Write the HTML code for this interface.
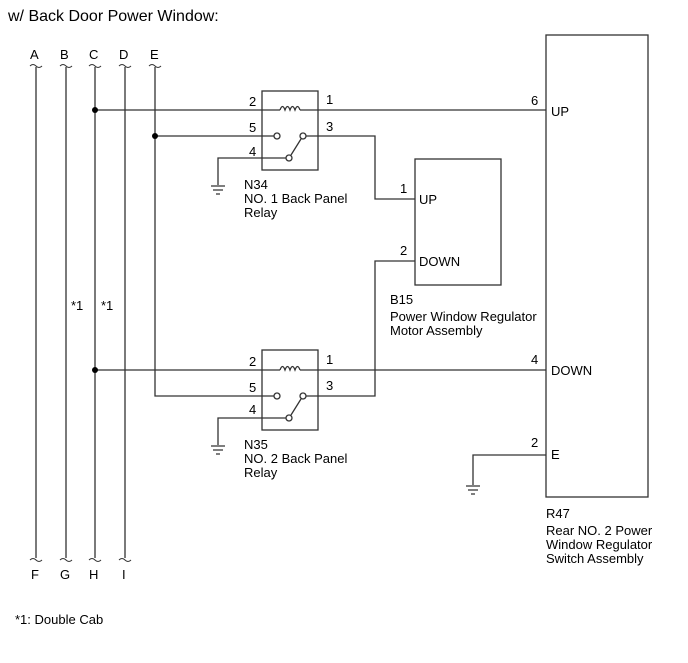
<!DOCTYPE html>
<html><head><meta charset="utf-8"><style>
body{margin:0;background:#fff}
svg text{font-family:"Liberation Sans",Arial,sans-serif;font-size:13px;fill:#000}
</style></head><body>
<svg width="688" height="658" viewBox="0 0 688 658" xmlns="http://www.w3.org/2000/svg">
<g fill="none" stroke="#333" stroke-width="1.3">
<path d="M36 67V558M66 67V558M95 67V558M125 67V558M155 67V396H262"/>
<g stroke-width="1">
<path d="M30 66q3-3 6 0q3 3 6 0M60 66q3-3 6 0q3 3 6 0M89 66q3-3 6 0q3 3 6 0M119 66q3-3 6 0q3 3 6 0M149 66q3-3 6 0q3 3 6 0"/>
<path d="M30 560q3-3 6 0q3 3 6 0M60 560q3-3 6 0q3 3 6 0M89 560q3-3 6 0q3 3 6 0M119 560q3-3 6 0q3 3 6 0"/>
</g>
<rect x="262" y="91" width="56" height="79"/>
<path d="M95 110H280M300 110H546"/>
<path d="M280 110q2.5-7 5 0q2.5-7 5 0q2.5-7 5 0q2.5-7 5 0"/>
<path d="M155 136H274M306 136H375V199H415"/>
<circle cx="277" cy="136" r="3"/><circle cx="303" cy="136" r="3"/><circle cx="289" cy="158" r="3"/>
<path d="M291 155L301 139"/>
<path d="M286 158H218V185"/>
<path d="M211 186H225M213 190H223M216 194H220"/>
<rect x="415" y="159" width="86" height="126"/>
<path d="M415 261H375V396H318"/>
<rect x="262" y="350" width="56" height="80"/>
<path d="M95 370H280M300 370H546"/>
<path d="M280 370q2.5-7 5 0q2.5-7 5 0q2.5-7 5 0q2.5-7 5 0"/>
<path d="M262 396H274M306 396H318"/>
<circle cx="277" cy="396" r="3"/><circle cx="303" cy="396" r="3"/><circle cx="289" cy="418" r="3"/>
<path d="M291 415L301 399"/>
<path d="M286 418H218V445"/>
<path d="M211 446H225M213 450H223M216 454H220"/>
<rect x="546" y="35" width="102" height="462"/>
<path d="M546 455H473V485"/>
<path d="M466 486H480M468 490H478M471 494H475"/>
</g>
<circle cx="95" cy="110" r="3" fill="#000"/>
<circle cx="155" cy="136" r="3" fill="#000"/>
<circle cx="95" cy="370" r="3" fill="#000"/>
<text x="8" y="21" style="font-size:16px">w/ Back Door Power Window:</text>
<text x="30" y="59">A</text><text x="60" y="59">B</text><text x="89" y="59">C</text><text x="119" y="59">D</text><text x="150" y="59">E</text>
<text x="31" y="579">F</text><text x="60" y="579">G</text><text x="89" y="579">H</text><text x="122" y="579">I</text>
<text x="71" y="310">*1</text><text x="101" y="310">*1</text>
<text x="249" y="106">2</text><text x="326" y="104">1</text><text x="249" y="132">5</text><text x="326" y="131">3</text><text x="249" y="156">4</text>
<text x="244" y="189">N34</text><text x="244" y="203">NO. 1 Back Panel</text><text x="244" y="217">Relay</text>
<text x="249" y="366">2</text><text x="326" y="364">1</text><text x="249" y="392">5</text><text x="326" y="390">3</text><text x="249" y="414">4</text>
<text x="244" y="449">N35</text><text x="244" y="463">NO. 2 Back Panel</text><text x="244" y="477">Relay</text>
<text x="400" y="193">1</text><text x="419" y="204">UP</text>
<text x="400" y="255">2</text><text x="419" y="266">DOWN</text>
<text x="390" y="304">B15</text><text x="390" y="321">Power Window Regulator</text><text x="390" y="335">Motor Assembly</text>
<text x="531" y="105">6</text><text x="551" y="116">UP</text>
<text x="531" y="364">4</text><text x="551" y="375">DOWN</text>
<text x="531" y="447">2</text><text x="551" y="459">E</text>
<text x="546" y="518">R47</text><text x="546" y="535">Rear NO. 2 Power</text><text x="546" y="549">Window Regulator</text><text x="546" y="563">Switch Assembly</text>
<text x="15" y="624">*1: Double Cab</text>
</svg>
</body></html>
